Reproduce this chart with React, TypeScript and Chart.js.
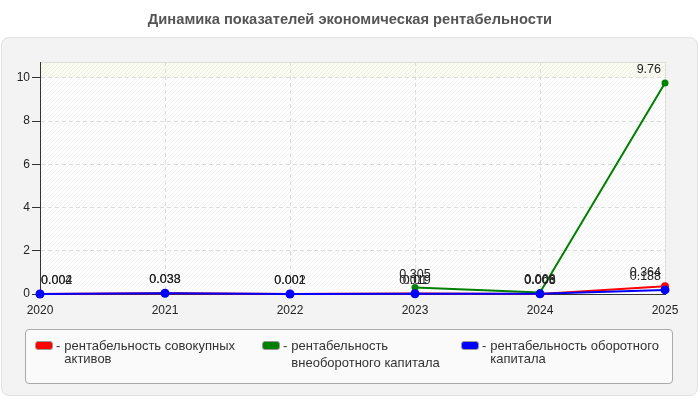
import { useEffect, useRef } from 'react';
import { Chart, registerables } from 'chart.js';

Chart.register(...registerables);

const years = ['2020', '2021', '2022', '2023', '2024', '2025'];
const assetsReturn = [0.004, 0.038, 0.002, 0.019, 0.003, 0.364];
const fixedCapitalReturn = [null, null, null, 0.305, 0.066, 9.76];
const workingCapitalReturn = [0.002, 0.033, 0.001, 0.010, 0.006, 0.188];
const yTicks = [0, 2, 4, 6, 8, 10];

const seriesNames = [
  'рентабельность совокупных активов',
  'рентабельность внеоборотного капитала',
  'рентабельность оборотного капитала',
];
const seriesColors = ['#ff0000', '#008000', '#0000ff'];

const FONT = '"Liberation Sans", Arial, sans-serif';

// hatched plot background, pale band above the last tick
const plotBackground = {
  id: 'plotBackground',
  beforeDraw(chart: any) {
    const { ctx, chartArea: a, scales } = chart;
    ctx.save();
    ctx.fillStyle = '#ffffff';
    ctx.fillRect(a.left, a.top, a.right - a.left, a.bottom - a.top);
    const y10 = scales.y.getPixelForValue(10);
    ctx.fillStyle = '#fbfcf1';
    ctx.fillRect(a.left, a.top, a.right - a.left, y10 - a.top);
    ctx.beginPath();
    ctx.rect(a.left, a.top, a.right - a.left, a.bottom - a.top);
    ctx.clip();
    ctx.strokeStyle = 'rgba(0,0,0,0.05)';
    ctx.lineWidth = 1;
    const h = a.bottom - a.top;
    for (let x = a.left - h; x < a.right; x += 4) {
      ctx.beginPath();
      ctx.moveTo(x, a.bottom);
      ctx.lineTo(x + h, a.top);
      ctx.stroke();
    }
    ctx.restore();
    ctx.save();
    ctx.strokeStyle = '#dddddd';
    ctx.lineWidth = 1;
    ctx.beginPath();
    ctx.moveTo(a.left, a.top + 0.5);
    ctx.lineTo(a.right + 0.5, a.top + 0.5);
    ctx.lineTo(a.right + 0.5, a.bottom);
    ctx.stroke();
    ctx.restore();
  },
};

const pointLabels = {
  id: 'pointLabels',
  afterDatasetsDraw(chart: any) {
    const { ctx, chartArea: a } = chart;
    ctx.save();
    ctx.font = `12.5px ${FONT}`;
    ctx.fillStyle = '#222222';
    ctx.textBaseline = 'bottom';
    ctx.textAlign = 'left';
    chart.data.datasets.forEach((ds: any, i: number) => {
      const meta = chart.getDatasetMeta(i);
      meta.data.forEach((pt: any, j: number) => {
        const v = ds.data[j];
        if (v === null || v === undefined) return;
        const text = String(v);
        const w = ctx.measureText(text).width;
        let x = pt.x - w / 2;
        if (x < a.left + 1) x = a.left + 1;
        if (x + w > a.right - 4) x = a.right - 4 - w;
        ctx.fillText(text, x, pt.y - 7);
      });
    });
    ctx.restore();
  },
};

function LineChart() {
  const canvasRef = useRef<HTMLCanvasElement>(null);
  const chartRef = useRef<Chart | null>(null);

  useEffect(() => {
    if (!canvasRef.current) return;
    if (chartRef.current) chartRef.current.destroy();
    const ctx = canvasRef.current.getContext('2d');
    if (!ctx) return;

    const values = [assetsReturn, fixedCapitalReturn, workingCapitalReturn];
    const radii = [4, 3.5, 4.5];
    const orders = [2, 1, 0];

    chartRef.current = new Chart(ctx, {
      type: 'line',
      data: {
        labels: years,
        datasets: values.map((data, i) => ({
          label: seriesNames[i],
          data: data as any,
          borderColor: seriesColors[i],
          backgroundColor: seriesColors[i],
          borderWidth: 2,
          pointRadius: radii[i],
          pointBorderWidth: 0,
          tension: 0,
          spanGaps: false,
          order: orders[i],
          clip: false as any,
        })),
      },
      plugins: [plotBackground, pointLabels],
      options: {
        animation: false,
        responsive: false,
        maintainAspectRatio: false,
        layout: { padding: { top: 62, right: 35, left: 0, bottom: 0 } },
        plugins: {
          legend: { display: false },
          tooltip: { enabled: false },
        },
        scales: {
          x: {
            offset: false,
            grid: {
              color: (c: any) => (c.index === 0 ? 'transparent' : '#dddddd'),
              drawTicks: false,
            },
            border: { color: '#333333', width: 1, dash: [4, 3] },
            ticks: {
              color: '#222222',
              font: { family: FONT, size: 12 },
              padding: 9,
              maxRotation: 0,
            },
            afterFit(scale: any) {
              scale.height = 36;
            },
          },
          y: {
            min: 0,
            max: 10.736,
            afterBuildTicks(scale: any) {
              scale.ticks = yTicks.map((v) => ({ value: v }));
            },
            grid: {
              color: (c: any) => (c.tick && c.tick.value === 0 ? 'transparent' : '#dddddd'),
              tickColor: '#333333',
              tickLength: 8,
              tickBorderDash: [],
            },
            border: { color: '#333333', width: 1, dash: [4, 3] },
            ticks: {
              color: '#222222',
              font: { family: FONT, size: 12 },
              padding: 2,
            },
            afterFit(scale: any) {
              scale.width = 40;
            },
          },
        },
      },
    });

    return () => {
      if (chartRef.current) chartRef.current.destroy();
    };
  }, []);

  return <canvas ref={canvasRef} width={700} height={330} style={{ position: 'absolute', left: 0, top: 0 }} />;
}

const legendLeft = [35, 262, 461];
const legendTextWidth = [192, 150, 192];

export default function App() {
  useEffect(() => {
    document.body.style.margin = '0';
  }, []);

  return (
    <div style={{ position: 'relative', width: 700, height: 400, background: '#fff', fontFamily: FONT, overflow: 'hidden' }}>
      <div
        style={{
          position: 'absolute',
          left: 1,
          top: 37,
          width: 695,
          height: 357,
          background: '#f3f3f3',
          border: '1px solid #e2e2e2',
          borderRadius: 8,
        }}
      />
      <LineChart />
      <div
        style={{
          position: 'absolute',
          top: 11,
          left: 0,
          width: 700,
          textAlign: 'center',
          fontWeight: 'bold',
          fontSize: 14.7,
          color: '#555555',
        }}
      >
        Динамика показателей экономическая рентабельности
      </div>
      <div
        style={{
          position: 'absolute',
          left: 25,
          top: 329,
          width: 646,
          height: 53,
          background: '#fafafa',
          border: '1px solid #aaaaaa',
          borderRadius: 4,
        }}
      />
      {seriesNames.map((name, i) => (
        <div
          key={name}
          style={{
            position: 'absolute',
            left: legendLeft[i],
            top: 339,
            display: 'flex',
            fontSize: 13,
            color: '#333333',
            lineHeight: '13px',
          }}
        >
          <span
            style={{
              display: 'inline-block',
              width: 16,
              height: 7,
              background: seriesColors[i],
              border: '1px solid #999',
              borderRadius: 3,
              marginTop: 2,
              marginRight: 3,
              flexShrink: 0,
            }}
          />
          <span style={{ marginRight: 4 }}>-</span>
          <span style={{ width: legendTextWidth[i], lineHeight: i === 1 ? '17px' : '13px', marginTop: i === 1 ? -2 : 0 }}>
            {name}
          </span>
        </div>
      ))}
    </div>
  );
}
